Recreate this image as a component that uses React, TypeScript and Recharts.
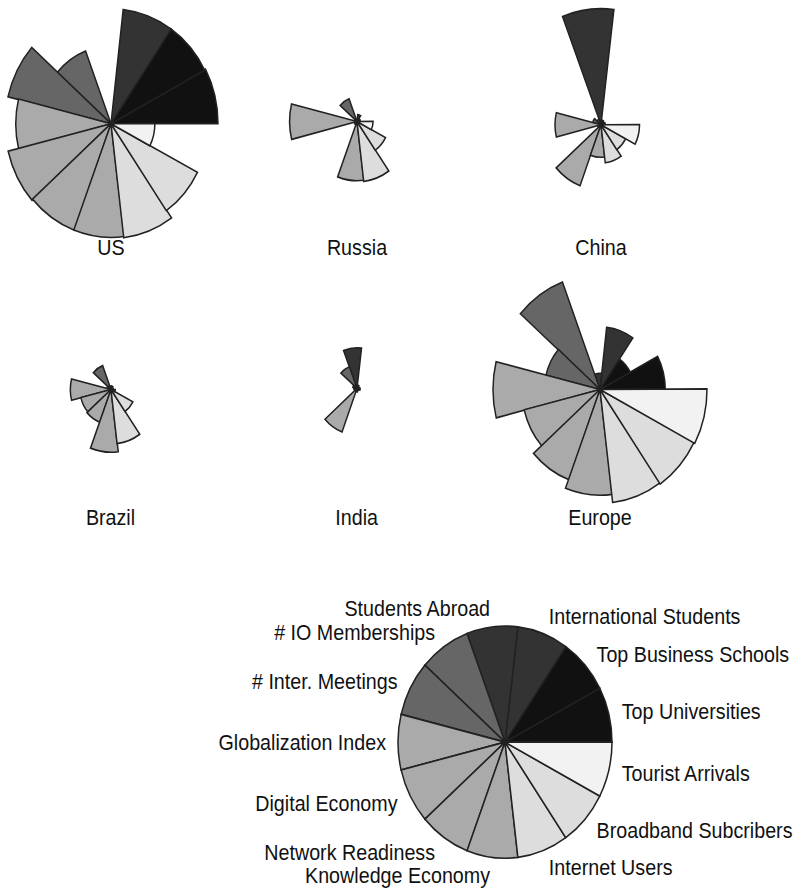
import {
  RadialBarChart,
  RadialBar,
  PolarAngleAxis,
  PolarRadiusAxis,
  PieChart,
  Pie,
  Cell,
} from 'recharts';

// indicators run counter-clockwise from 3 o'clock
const indicators = [
  'Top Universities',
  'Top Business Schools',
  'International Students',
  'Students Abroad',
  '# IO Memberships',
  '# Inter. Meetings',
  'Globalization Index',
  'Digital Economy',
  'Network Readiness',
  'Knowledge Economy',
  'Internet Users',
  'Broadband Subcribers',
  'Tourist Arrivals',
];

// scores per indicator, 100 = best of the six
const usScores = [100, 99, 99, 1, 67, 99, 89, 99, 98, 98, 99, 91, 41];
const russiaScores = [3, 3, 6, 2, 21, 2, 63, 2, 3, 51, 52, 30, 15];
const chinaScores = [4, 3, 4, 100, 5, 8, 43, 3, 56, 28, 33, 26, 36];
const brazilScores = [2, 2, 3, 3, 22, 4, 38, 29, 30, 54, 47, 23, 4];
const indiaScores = [2, 2, 3, 35, 20, 4, 3, 2, 40, 3, 2, 2, 3];
const europeScores = [61, 32, 54, 14, 99, 52, 100, 73, 83, 91, 98, 99, 100];

const shades = [
  '#111111', '#111111',
  '#333333', '#333333',
  '#666666', '#666666',
  '#aaaaaa', '#aaaaaa', '#aaaaaa', '#aaaaaa',
  '#dddddd', '#dddddd',
  '#f2f2f2',
];

const FONT = '"Liberation Sans", Arial, sans-serif';
const FONT_SIZE = 19.7;
const RADIUS = 107;
const STRETCH = 1.085; // the source picture is a little taller than wide
// the centric band axis puts the first band one step early, so start one step on
const STEP = 360 / indicators.length;

function toRows(scores: number[]) {
  return indicators.map((name, i) => ({ name, score: scores[i] }));
}

interface RoseProps {
  title: string;
  scores: number[];
  x: number;
  y: number;
  titleY: number;
}

function Rose({ title, scores, x, y, titleY }: RoseProps) {
  const rows = toRows(scores);
  return (
    <>
      <div style={{ position: 'absolute', left: x - 115, top: y - 115 }}>
        <RadialBarChart
          width={230}
          height={230}
          cx={115}
          cy={115}
          data={rows}
          layout="centric"
          startAngle={STEP}
          endAngle={360 + STEP}
          innerRadius={0}
          outerRadius={RADIUS}
          barCategoryGap={0}
          margin={{ top: 0, right: 0, bottom: 0, left: 0 }}
        >
          <PolarAngleAxis type="category" dataKey="name" scale="band" tick={false} axisLine={false} tickLine={false} />
          <PolarRadiusAxis type="number" domain={[0, 100]} tick={false} axisLine={false} tickLine={false} />
          <RadialBar dataKey="score" stroke="#222" strokeWidth={1.5} isAnimationActive={false}>
            {rows.map((r, i) => (
              <Cell key={r.name} fill={shades[i]} />
            ))}
          </RadialBar>
        </RadialBarChart>
      </div>
      <div
        style={{
          position: 'absolute',
          left: x - 60,
          width: 120,
          top: titleY - 12,
          height: 24,
          lineHeight: '24px',
          textAlign: 'center',
          fontFamily: FONT,
          fontSize: FONT_SIZE,
          color: '#111',
        }}
      >
        {title}
      </div>
    </>
  );
}

function IndicatorLabel(props: any) {
  const { cx, cy, midAngle, outerRadius, name } = props;
  const rad = (-midAngle * Math.PI) / 180;
  const r = outerRadius + 12 + 5 * Math.abs(Math.sin(rad));
  return (
    <text
      x={cx + r * Math.cos(rad)}
      y={cy + r * Math.sin(rad)}
      textAnchor={Math.cos(rad) >= 0 ? 'start' : 'end'}
      dominantBaseline="central"
      fill="#111"
      fontSize={FONT_SIZE}
      fontFamily={FONT}
    >
      {name}
    </text>
  );
}

function KeyPie() {
  const rows = indicators.map((name) => ({ name, share: 1 }));
  return (
    <div style={{ position: 'absolute', left: 0, top: 543.6 }}>
      <PieChart width={793} height={280} margin={{ top: 0, right: 0, bottom: 0, left: 0 }}>
        <Pie
          data={rows}
          dataKey="share"
          nameKey="name"
          cx={505}
          cy={140}
          startAngle={0}
          endAngle={360}
          innerRadius={0}
          outerRadius={RADIUS}
          stroke="#222"
          strokeWidth={1.5}
          labelLine={false}
          label={IndicatorLabel}
          isAnimationActive={false}
        >
          {rows.map((r, i) => (
            <Cell key={r.name} fill={shades[i]} />
          ))}
        </Pie>
      </PieChart>
    </div>
  );
}

export default function App() {
  return (
    <div style={{ position: 'absolute', left: 0, top: 0, width: 793, height: 888, overflow: 'hidden', background: '#fff' }}>
      <div style={{ position: 'absolute', left: 0, top: 0, width: 793, height: 888 / STRETCH, transform: `scaleY(${STRETCH})`, transformOrigin: '0 0' }}>
        <Rose title="US" scores={usScores} x={111} y={114.3} titleY={227.6} />
        <Rose title="Russia" scores={russiaScores} x={357} y={112.2} titleY={227.6} />
        <Rose title="China" scores={chinaScores} x={601} y={115.2} titleY={227.6} />
        <Rose title="Brazil" scores={brazilScores} x={110.5} y={358.5} titleY={476.5} />
        <Rose title="India" scores={indiaScores} x={356.7} y={357.9} titleY={476.5} />
        <Rose title="Europe" scores={europeScores} x={600} y={359.4} titleY={476.5} />
        <KeyPie />
      </div>
    </div>
  );
}
